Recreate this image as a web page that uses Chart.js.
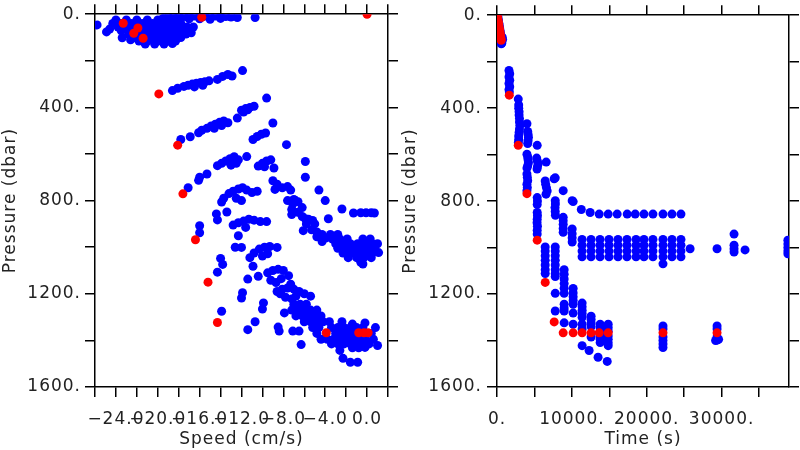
<!DOCTYPE html>
<html>
<head>
<meta charset="utf-8">
<script src="https://cdn.jsdelivr.net/npm/chart.js@4.4.1/dist/chart.umd.min.js"></script>
<style>
body { margin: 0; background: #fff; }
#wrap { display: flex; width: 800px; height: 450px; }
canvas { display: block; }
</style>
</head>
<body>
<div id="wrap">
<canvas id="speedChart" width="400" height="450"></canvas>
<canvas id="timeChart" width="400" height="450"></canvas>
</div>
<script>
// tick labels
const pressureLabels = [0, 400, 800, 1200, 1600];
const speedLabels = [-24, -20, -16, -12, -8, -4, 0];
const timeLabels = [0, 10000, 20000, 30000];

// [speed cm/s, pressure dbar]
const speedBlue = [
  [-19.5,18],[-19,12],[-18.5,10],[-18,8],[-17.5,10],[-17,8],[-16.5,8],[-16,10],[-15.5,8],[-15,10],[-14.5,8],[-14,10],[-13.5,10],[-13,12],[-12.4,14],[-10.7,14],[-19,26],[-18,22],[-17,20],[-16,20],[-15,22],[-14,18],
  [-24,25],[-23,25],[-22,25],[-21,25],[-20,25],[-19,25],[-18.5,28],
  [-24.3,40],[-23.5,40],[-22.5,40],[-21.5,40],[-20.5,40],[-19.5,40],[-18.5,40],[-17.8,40],
  [-23.8,55],[-23,55],[-22,55],[-21,55],[-20,55],[-19,55],[-18,55],[-17.2,55],
  [-23.5,70],[-22.5,70],[-21.5,70],[-20.5,70],[-19.5,70],[-18.5,70],[-17.5,70],[-17,72],
  [-22.8,85],[-22,85],[-21,85],[-20,85],[-19,85],[-18,85],[-17.3,85],
  [-22.3,100],[-21.5,100],[-20.5,100],[-19.5,100],[-18.5,100],[-17.8,100],
  [-21.8,115],[-21,115],[-20,115],[-19,115],[-18.3,115],
  [-21.2,128],[-20.3,128],[-19.4,128],[-18.6,126],
  [-25.8,46],[-24.9,76],[-24.6,64],[-23.4,101],[-22.6,110],[-16.6,55],[-16.8,80],
  [-18.6,328],[-18.1,318],[-17.5,310],[-17.1,305],[-16.7,300],[-16.3,296],[-15.9,293],[-15.5,290],[-15.1,286],[-16.5,312],[-15.7,305],[-14.3,280],[-13.8,267],[-13.3,259],[-12.9,265],[-11.9,242],
  [-17.8,538],[-16.9,526],[-16.1,509],[-15.8,498],[-15.3,490],[-14.9,480],[-14.5,472],[-14.1,464],[-13.7,458],[-13.3,466],[-14.6,490],[-13.9,478],[-12.4,446],[-12,412],[-11.6,405],[-11.2,400],[-10.8,395],[-11.8,420],[-11.4,410],[-9.6,360],[-9,467],[-10.9,538],[-10.5,525],[-10.1,515],[-9.7,510],[-7.7,560],
  [-17.1,745],[-16.1,713],[-16,700],[-15.3,686],[-14.3,650],[-13.9,640],[-13.5,630],[-13.1,620],[-12.7,612],[-12.3,625],[-13,648],[-12.5,640],[-11.5,611],[-10.4,652],[-10,640],[-9.6,630],[-9.2,625],[-8.9,660],[-9.8,655],[-5.9,632],[-5.9,700],[-9,715],[-8.6,730],[-8.1,745],[-7.6,740],[-7.3,755],[-8.8,752],[-4.6,755],[-4,800],[-6.9,798],
  [-13.7,790],[-13.2,770],[-12.8,760],[-12.3,750],[-11.9,745],[-11.5,755],[-11,765],[-10.5,760],[-12.5,790],[-12,800],[-13.9,806],[-13.4,849],[-14.4,857],[-14.3,883],[-16,908],[-16,938],[-12.8,905],[-12.3,895],[-11.8,888],[-11.3,880],[-10.8,884],[-10.2,890],[-9.6,890],[-11.6,915],[-12.3,951],[-12.6,1000],[-12,1001],
  [-14,1048],[-13.8,1074],[-14.3,1107],[-11.2,1045],[-10.8,1025],[-10.3,1008],[-9.8,1000],[-9.3,997],[-8.6,1001],[-10,1038],[-9.5,1028],[-10.9,1082],[-11.4,1137],[-10.4,1125],[-9.5,1110],[-9,1100],[-8.5,1095],[-8,1100],[-7.5,1122],[-9.2,1142],[-8.7,1152],[-8.2,1135],[-7.3,1159],[-11.9,1195],[-12,1218],
  [-8.6,1190],[-8.1,1180],[-7.6,1175],[-7,1180],[-6.5,1190],[-6,1200],[-5.4,1210],[-7.8,1215],[-7.2,1222],[-6.8,1210],[-8.3,1200],[-9.9,1239],[-10,1265],[-10.7,1320],[-11.4,1354],[-7.9,1282],[-8.5,1343],[-8.4,1360],[-7.1,1360],[-6.5,1360],[-6.3,1418],[-13.9,1275],
  [-7,1245],[-6.4,1245],[-5.8,1245],
  [-7.2,1270],[-6.6,1270],[-6,1270],[-5.4,1270],[-4.8,1270],
  [-6.8,1295],[-6.2,1295],[-5.6,1295],[-5,1295],[-4.4,1295],
  [-6,1320],[-5.4,1320],[-4.8,1320],[-4.2,1320],[-3.6,1320],[-2.4,1320],
  [-5.2,1345],[-4.6,1345],[-3.4,1345],[-2.8,1345],[-2.2,1345],[-1.6,1345],[-1,1345],[-0.4,1345],[0.8,1345],
  [-4.8,1370],[-3,1370],[-2.4,1370],[-1.8,1370],[-1.2,1370],[-0.6,1370],[0.4,1370],
  [-4.4,1395],[-3.8,1395],[-3.2,1395],[-2.6,1395],[-2,1395],[-1.4,1395],[-0.8,1395],[-0.2,1395],[0.6,1395],
  [-3.4,1415],[-2.8,1415],[-2.2,1415],[-1.6,1415],[-1,1415],[-0.4,1415],[0.2,1415],[1,1422],
  [-1.4,1432],[-0.8,1432],[-0.2,1430],
  [-2.6,1443],[-2.3,1477],[-1.6,1494],[-0.9,1494],[-1.4,1330],[-0.2,1325],
  [-7.1,815],[-7.2,838],[-7.6,800],[-7,795],[-6.6,805],[-6.2,830],[-6.6,850],[-7.2,860],[-5.9,878],[-6.2,868],[-5.6,880],[-5.2,885],[-5,900],[-5.8,900],[-3.7,878],[-6.1,929],[-5.3,925],[-4.8,935],[-4.3,945],[-3.9,960],[-4.8,955],[-4.3,976],[-2.4,836],[-1.3,853],[-0.6,852],[-0.1,852],[0.4,852],[0.7,853],
  [-3.5,945],[-2.8,945],
  [-3.3,965],[-2.6,965],[-1.9,965],[-0.4,965],[0.3,965],
  [-3,985],[-2.3,985],[-1.6,985],[-0.9,985],[-0.2,985],[0.5,985],[1,985],
  [-2.8,1005],[-2.1,1005],[-1.4,1005],[-0.7,1005],[0,1005],[0.7,1005],
  [-2.3,1025],[-1.6,1025],[-0.9,1025],[-0.2,1025],[0.5,1025],[1.1,1023],
  [-1.8,1045],[-1,1045],[-0.3,1045],[0.4,1045],
  [-0.6,1065],[-0.4,1072]
];

const speedRed = [
  [-23.3,39],[-21.9,59],[-22.3,82],[-21.4,103],[-15.8,13],[0,0],
  [-19.9,342],[-18.1,562],[-17.6,771],[-16.4,968],[-15.2,1150],[-14.3,1323],
  [-3.9,1367],[-0.8,1367],[-0.3,1367],[0.1,1367]
];

// [time s, pressure dbar]
const timeBlue = [
  [100,5],[150,15],[200,25],[250,35],[300,45],[350,55],[400,65],[450,75],[500,85],[550,100],[600,110],[570,123],[650,120],[700,95],[750,105],
  [1600,238],[1700,252],[1600,266],[1700,280],[1600,294],[1700,308],[1600,320],[1650,331],
  [2840,361],[2900,386],[2900,400],[2950,415],[2950,430],[3000,445],[3000,460],[3050,475],[3000,490],[2950,505],[2900,520],[2900,535],[2850,548],
  [4000,467],[4100,500],[4150,512],[4200,525],[4150,540],[4100,552],[5370,560],
  [4000,598],[4100,610],[4150,622],[4200,635],[4100,648],[4000,658],[4000,683],[4050,697],[4100,712],[4000,727],[4050,742],[4000,755],
  [5300,615],[5400,628],[5500,640],[5400,652],[5350,662],[6570,632],[7780,700],[6440,713],[6500,728],[6600,742],[6700,756],[6550,770],[8840,755],[10040,798],
  [5370,785],[5400,800],[5370,815],[5370,849],[5400,863],[5370,878],[5350,893],[5400,908],[5370,925],[5370,942],
  [7780,798],[7800,812],[7750,828],[7780,845],[7800,861],[7640,704],[10170,802],
  [11260,836],[12440,849],[13650,856],[14850,856],[16050,856],[17390,856],[18460,856],[19630,856],[20830,856],[22170,856],[23370,856],[24570,856],
  [10040,920],[10040,940],[10040,958],[10040,976],[8840,870],[8840,885],[8840,900],[8840,918],[8840,934],
  [11360,965],[11360,990],[11360,1015],[11360,1040],
  [12560,965],[12560,990],[12560,1015],[12560,1040],
  [13760,965],[13760,990],[13760,1015],[13760,1040],
  [14960,965],[14960,990],[14960,1015],[14960,1040],
  [16160,965],[16160,990],[16160,1015],[16160,1040],
  [17360,965],[17360,990],[17360,1015],[17360,1040],
  [18570,965],[18570,990],[18570,1015],[18570,1040],
  [19630,965],[19630,990],[19630,1015],[19630,1040],
  [20830,965],[20830,990],[20830,1015],[20830,1040],
  [22170,965],[22170,990],[22170,1015],[22170,1040],
  [23370,965],[23370,990],[23370,1015],[23370,1040],
  [24570,965],[24570,990],[24570,1015],[24570,1040],
  [22170,1070],[25790,1005],[29390,1005],[31660,942],[31660,990],[31660,1005],[31660,1019],[33130,1010],
  [38850,968],[38850,985],[38850,1000],[38850,1015],[38850,1027],
  [6440,997],[6440,1015],[6440,1035],[6440,1055],[6440,1075],[6440,1095],[6440,1112],
  [7780,997],[7780,1015],[7780,1035],[7780,1055],[7780,1075],[7780,1095],[7780,1112],[7780,1125],[7780,1197],[7780,1273],
  [8970,1095],[8970,1115],[8970,1135],[8970,1155],[8970,1175],[8970,1197],[8970,1244],[8970,1260],[8970,1273],[8970,1324],
  [10170,1176],[10170,1195],[10170,1212],[10170,1228],[10170,1244],[10170,1282],[10170,1330],
  [11370,1239],[11370,1255],[11370,1270],[11370,1285],[11370,1300],[11370,1330],[11370,1350],[11370,1422],
  [12570,1295],[12570,1310],[12570,1325],[12570,1340],[12570,1385],[12300,1443],
  [13780,1330],[13780,1345],[13780,1360],[13780,1380],[13780,1395],[13780,1409],[13500,1472],
  [14850,1330],[14850,1345],[14850,1360],[14850,1380],[14850,1395],[14850,1410],[14850,1422],[14720,1490],
  [22170,1337],[22170,1350],[22170,1385],[22170,1400],[22170,1415],[22170,1430],
  [29390,1337],[29390,1350],[29390,1385],[29390,1398],[29200,1400],[29600,1395]
];

const timeRed = [
  [30,0],[80,10],[130,20],[180,30],[230,40],[280,50],[330,60],[380,70],[430,80],[480,90],[530,100],[560,108],
  [1640,344],[2840,560],[4000,768],[5370,968],[6440,1150],[7640,1320],
  [8840,1367],[10170,1367],[11370,1367],[12570,1367],[13650,1367],[14850,1367],[22170,1367],[29390,1367]
];

Chart.defaults.font.family = 'DejaVu Sans';
Chart.defaults.font.size = 17;
Chart.defaults.color = '#222';

const toPoints = arr => arr.map(p => ({ x: p[0], y: p[1] }));

// wider letter spacing like the original plot font
const spacing = {
  id: 'spacing',
  beforeDraw(chart) { chart.ctx.letterSpacing = '1px'; }
};

const fixed = size => scale => {
  if (scale.isHorizontal()) scale.height = size; else scale.width = size;
};

// tick marks every `step` from `start`, stopping inside `max`
const tickEvery = (start, max, step) => scale => {
  const t = [];
  for (let v = start; v <= max + 1e-9; v += step) t.push({ value: v });
  scale.ticks = t;
};

const grid = { drawOnChartArea: false, tickLength: 10, color: '#000', lineWidth: 1.5 };
const border = { color: '#000', width: 1.5 };

function fmtSpeed(v) {
  return v < 0 ? '\u2212' + Math.abs(v).toFixed(1) : v.toFixed(1);
}

// label only the listed values
function pick(list, step, fmt) {
  return v => {
    const l = list.find(l => Math.abs(l - v) < step * 0.01);
    return l === undefined ? '' : fmt(l);
  };
}

function makeChart(id, blue, red, xr, leftW, rightW, labelPad) {
  new Chart(document.getElementById(id), {
    type: 'scatter',
    data: {
      datasets: [
        { data: toPoints(red), backgroundColor: '#ff0000', borderWidth: 0, pointRadius: 4.5, clip: 0 },
        { data: toPoints(blue), backgroundColor: '#0000ff', borderWidth: 0, pointRadius: 4.5, clip: 0 }
      ]
    },
    options: {
      responsive: false,
      animation: false,
      devicePixelRatio: 1,
      events: [],
      layout: { padding: 0 },
      plugins: { legend: { display: false }, tooltip: { enabled: false } },
      scales: {
        x: {
          type: 'linear', position: 'bottom', min: xr.min, max: xr.max,
          afterFit: fixed(63), afterBuildTicks: tickEvery(xr.min, xr.max, xr.step),
          grid: grid, border: border,
          ticks: {
            autoSkip: false, maxRotation: 0, minRotation: 0, padding: 12,
            callback: pick(xr.labels, xr.step, xr.fmt)
          },
          title: { display: true, text: xr.title, padding: 0 }
        },
        x2: {
          type: 'linear', axis: 'x', position: 'top', min: xr.min, max: xr.max,
          afterFit: fixed(10), afterBuildTicks: tickEvery(xr.min, xr.max, xr.step),
          grid: grid, border: border,
          ticks: { display: false }
        },
        y: {
          type: 'linear', position: 'left', reverse: true, min: 0, max: 1600,
          afterFit: fixed(leftW), afterBuildTicks: tickEvery(0, 1600, 200),
          grid: grid, border: border,
          ticks: {
            autoSkip: false, padding: labelPad,
            callback: pick(pressureLabels, 200, v => v + '.')
          },
          title: { display: true, text: 'Pressure (dbar)', padding: 0 }
        },
        y2: {
          type: 'linear', axis: 'y', position: 'right', reverse: true, min: 0, max: 1600,
          afterFit: fixed(rightW), afterBuildTicks: tickEvery(0, 1600, 200),
          grid: grid, border: border,
          ticks: { display: false }
        }
      }
    },
    plugins: [spacing]
  });
}

makeChart('speedChart', speedBlue, speedRed,
  { min: -26, max: 2, step: 2, labels: speedLabels, fmt: fmtSpeed, title: 'Speed (cm/s)' }, 95, 12, 4);

makeChart('timeChart', timeBlue, timeRed,
  { min: 0, max: 39000, step: 5000, labels: timeLabels, fmt: v => v + '.', title: 'Time (s)' }, 97, 11, 5);
</script>
</body>
</html>
